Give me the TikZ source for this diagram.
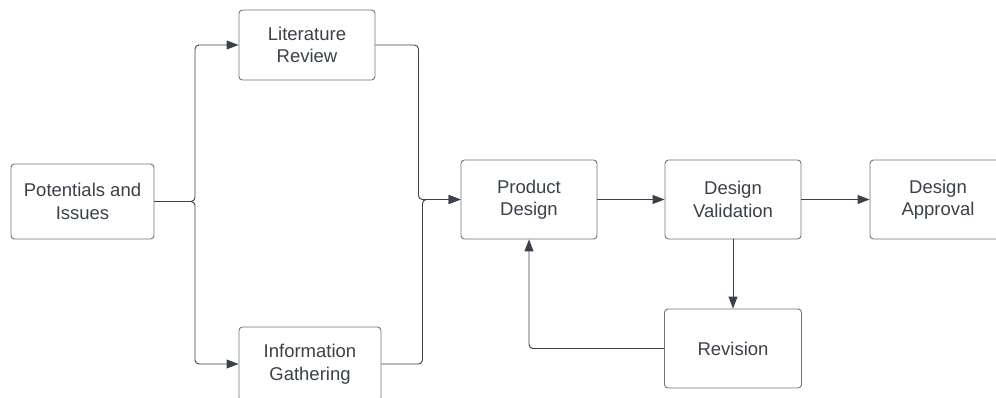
\documentclass[tikz,border=0pt]{standalone}
\usepackage{fontspec}
\setmainfont{Liberation Sans}
\usetikzlibrary{arrows.meta}
\definecolor{boxline}{HTML}{6E747C}
\definecolor{ink}{HTML}{3A414A}
\tikzset{
  stepbox/.style={draw=boxline, line width=0.9pt, rounded corners=3.5pt, fill=white,
    text=ink, align=center, inner sep=0pt,
    font=\fontsize{18.5}{22.5}\selectfont},
  link/.style={draw=ink, line width=0.9pt, rounded corners=4pt,
    -{Triangle[length=12pt,width=9pt]}}
}
\begin{document}
\begin{tikzpicture}[x=1pt, y=-1pt]
\useasboundingbox (0,0) rectangle (996,398);
\node[stepbox, minimum width=143pt, minimum height=75pt] (pot) at (82.5,201.5) {Potentials and\\Issues};
\node[stepbox, minimum width=136pt, minimum height=70pt] (lit) at (307,45) {Literature\\Review};
\node[stepbox, minimum width=142pt, minimum height=74pt] (info) at (310,364) {Information\\Gathering};
\node[stepbox, minimum width=136pt, minimum height=79pt] (prod) at (529,199.5) {Product\\Design};
\node[stepbox, minimum width=136pt, minimum height=79pt] (val) at (733,199.5) {Design\\Validation};
\node[stepbox, minimum width=136pt, minimum height=79pt] (appr) at (938,199.5) {Design\\Approval};
\node[stepbox, minimum width=137pt, minimum height=79pt] (rev) at (733,348.5) {Revision};

\coordinate (split) at (195,201.5);
\draw[link] (pot.east) -- (split) |- (lit.west);
\draw[link] (pot.east) -- (split) |- (info.west);
\draw[link] (lit.east) -- ++(43,0) |- (prod.west);
\draw[link] (info.east) -- ++(41,0) |- (prod.west);
\draw[link] (prod.east) -- (val.west);
\draw[link] (val.east) -- (appr.west);
\draw[link] (val.south) -- (rev.north);
\draw[link] (rev.west) -| (prod.south);
\end{tikzpicture}
\end{document}
